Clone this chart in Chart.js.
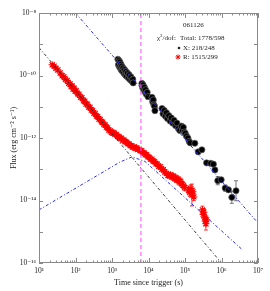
<!DOCTYPE html>
<html>
<head>
<meta charset="utf-8">
<script src="https://cdn.jsdelivr.net/npm/chart.js@4.4.1/dist/chart.umd.min.js"></script>
<style>
  html, body { margin: 0; padding: 0; background: #fff; }
  #wrap { width: 270px; height: 291px; }
</style>
</head>
<body>
<div id="wrap"><canvas id="lc" width="270" height="291"></canvas></div>
<script>
const SERIF = "'Liberation Serif', 'DejaVu Serif', serif";

// X-ray (XRT) light curve: time (s), flux (erg cm-2 s-1), error (dex)
const xrtTime = [1450, 1500, 1550, 1600, 1650, 1700, 1750, 1800, 1850, 1900, 2000, 2100, 2200, 2300, 2400, 2500, 2650, 2800, 2950, 3100, 3300, 3500, 3700, 3800,
  6600, 6900, 7100, 7400, 7700, 8000, 8300, 8700, 9200, 9700,
  12500, 13000, 13500, 14000, 14500, 15000,
  23500, 25000, 27000, 29000, 31000, 33000, 36000, 39000, 42000, 46000, 50000, 55000, 60000, 66000, 72000,
  80000, 85000, 90000, 96000, 102000, 110000, 120000, 130000, 138000,
  186000, 230000, 290000, 390000, 510000, 600000, 660000, 790000, 980000, 1260000, 1550000, 1920000, 2500000];
const xrtFlux = [3.3e-10, 2.2e-10, 3.0e-10, 1.9e-10, 2.7e-10, 1.7e-10, 2.3e-10, 1.5e-10, 2.0e-10, 1.4e-10, 1.75e-10, 1.2e-10, 1.55e-10, 1.05e-10, 1.35e-10, 9.5e-11, 1.2e-10, 8.4e-11, 1.05e-10, 7.4e-11, 9.0e-11, 6.5e-11, 7.6e-11, 5.8e-11,
  5.6e-11, 4.1e-11, 5.0e-11, 3.5e-11, 4.2e-11, 3.0e-11, 3.5e-11, 2.5e-11, 2.9e-11, 2.1e-11,
  2.0e-11, 1.45e-11, 1.65e-11, 1.15e-11, 1.05e-11, 7.5e-12,
  8.8e-12, 6.0e-12, 7.6e-12, 5.0e-12, 6.4e-12, 4.2e-12, 5.2e-12, 3.5e-12, 4.4e-12, 3.0e-12, 3.7e-12, 2.5e-12, 3.0e-12, 2.0e-12, 1.75e-12,
  2.4e-12, 1.8e-12, 2.2e-12, 1.55e-12, 1.4e-12, 1.15e-12, 1.0e-12, 7.8e-13, 7.0e-13,
  6.8e-13, 3.6e-13, 4.2e-13, 1.6e-13, 1.55e-13, 1.45e-13, 9.5e-14, 4.3e-14, 4.6e-14, 2.5e-14, 2.2e-14, 1.26e-14, 2.05e-14];
const xrtErr = [0.03, 0.03, 0.03, 0.03, 0.03, 0.03, 0.03, 0.03, 0.03, 0.03, 0.03, 0.03, 0.03, 0.03, 0.03, 0.03, 0.03, 0.03, 0.03, 0.03, 0.03, 0.03, 0.03, 0.03,
  0.03, 0.03, 0.03, 0.03, 0.03, 0.03, 0.03, 0.03, 0.03, 0.03,
  0.04, 0.04, 0.04, 0.04, 0.04, 0.04,
  0.04, 0.04, 0.04, 0.04, 0.04, 0.04, 0.04, 0.04, 0.04, 0.04, 0.04, 0.04, 0.04, 0.04, 0.04,
  0.05, 0.05, 0.05, 0.05, 0.05, 0.05, 0.05, 0.05, 0.05,
  0.06, 0.06, 0.06, 0.05, 0.05, 0.05, 0.06, 0.13, 0.08, 0.10, 0.08, 0.19, 0.32];

// Optical (R band) light curve
const rTime = [23, 26, 29, 33, 38, 43, 48, 53, 59, 65, 71, 76, 81, 86, 92, 98, 105, 115, 125, 138, 150, 165, 180, 195, 212, 230, 250, 272, 295,
  320, 345, 375, 405, 440, 475, 515, 555, 600, 650, 700, 760, 820, 890, 960, 1040, 1120, 1210, 1310, 1420, 1540, 1670, 1810, 1960, 2120,
  2300, 2490, 2700, 2920, 3160, 3420, 3700, 4000, 4350, 4700, 5100, 5500, 6000, 6500, 7000, 7600, 8200, 8900, 9700, 10500, 11400, 12400,
  13500, 14700, 16000, 17500, 19000, 21000, 23000, 25500, 28000, 31000, 34000, 37000, 40000, 44000, 48000, 52000, 56000, 60000, 65000,
  70000, 76000, 83000, 90000, 98000,
  125000, 135000, 145000, 155000, 165000, 175000,
  300000, 315000, 330000, 345000, 360000, 375000, 390000];
const rFlux = [2.2e-10, 2.0e-10, 1.7e-10, 1.5e-10, 1.2e-10, 9.8e-11, 9.2e-11, 7.4e-11, 7.0e-11, 5.6e-11, 5.4e-11, 4.4e-11, 4.6e-11, 3.7e-11, 3.9e-11, 3.1e-11, 3.2e-11, 2.6e-11, 2.5e-11, 2.0e-11, 1.95e-11, 1.55e-11, 1.5e-11, 1.22e-11, 1.2e-11, 9.8e-12, 9.5e-12, 7.8e-12, 7.6e-12,
  6.2e-12, 6.0e-12, 5.0e-12, 4.9e-12, 4.0e-12, 3.9e-12, 3.3e-12, 3.2e-12, 2.7e-12, 2.6e-12, 2.2e-12, 2.1e-12, 1.8e-12, 1.7e-12, 1.5e-12, 1.45e-12, 1.5e-12, 1.3e-12, 1.3e-12, 1.12e-12, 1.12e-12, 9.8e-13, 9.8e-13, 8.6e-13, 8.6e-13,
  7.6e-13, 7.4e-13, 6.6e-13, 6.5e-13, 5.7e-13, 5.6e-13, 5.1e-13, 5.2e-13, 4.7e-13, 4.8e-13, 4.3e-13, 4.4e-13, 3.9e-13, 3.9e-13, 3.4e-13, 3.3e-13, 2.9e-13, 2.9e-13, 2.5e-13, 2.4e-13, 2.1e-13, 2.1e-13,
  1.8e-13, 1.75e-13, 1.5e-13, 1.45e-13, 1.25e-13, 1.2e-13, 1.0e-13, 9.6e-14, 8.2e-14, 7.4e-14, 6.4e-14, 6.2e-14, 6.6e-14, 5.6e-14, 6.0e-14, 5.0e-14, 5.4e-14, 4.5e-14, 4.8e-14,
  3.9e-14, 4.1e-14, 3.3e-14, 3.0e-14, 2.6e-14,
  2.2e-14, 1.8e-14, 2.4e-14, 1.5e-14, 1.9e-14, 1.3e-14,
  5.0e-15, 3.6e-15, 4.2e-15, 2.8e-15, 2.2e-15, 1.8e-15, 2.4e-15];
const rErr = [0.04, 0.04, 0.04, 0.04, 0.04, 0.04, 0.04, 0.04, 0.04, 0.04, 0.04, 0.04, 0.04, 0.04, 0.04, 0.04, 0.04, 0.04, 0.04, 0.04, 0.04, 0.04, 0.04, 0.04, 0.04, 0.04, 0.04, 0.04, 0.04,
  0.04, 0.04, 0.04, 0.04, 0.04, 0.04, 0.04, 0.04, 0.04, 0.04, 0.04, 0.04, 0.04, 0.04, 0.04, 0.04, 0.04, 0.04, 0.04, 0.04, 0.04, 0.04, 0.04, 0.04, 0.04,
  0.05, 0.05, 0.05, 0.05, 0.05, 0.05, 0.05, 0.05, 0.05, 0.05, 0.05, 0.05, 0.05, 0.05, 0.05, 0.05, 0.05, 0.05, 0.05, 0.05, 0.05, 0.05,
  0.06, 0.06, 0.06, 0.06, 0.06, 0.06, 0.06, 0.06, 0.07, 0.07, 0.07, 0.07, 0.08, 0.08, 0.08, 0.08, 0.08, 0.08, 0.08,
  0.1, 0.1, 0.1, 0.1, 0.1,
  0.12, 0.12, 0.12, 0.35, 0.12, 0.12,
  0.12, 0.12, 0.12, 0.12, 0.15, 0.2, 0.12];

// model lines (time, flux)
const earlyDecayT = [10, 1e6];
const earlyDecayF = [7.8e-10, 1e-16];
const xrtModelT = [100, 1e7];
const xrtModelF = [1e-8, 1.9e-15];
const optModelT = [10, 1600, 3550, 8000, 3.55e6];
const optModelF = [5.0e-15, 1.66e-13, 2.5e-13, 1.78e-13, 2.8e-16];
const breakTime = 6200;

// axes
const xTickVals = [1e1, 1e2, 1e3, 1e4, 1e5, 1e6, 1e7];
const xTickLabels = ['10¹', '10²', '10³', '10⁴', '10⁵', '10⁶', '10⁷'];
const yTickVals = [1e-8, 1e-10, 1e-12, 1e-14, 1e-16];
const yTickLabels = ['10⁻⁸', '10⁻¹⁰', '10⁻¹²', '10⁻¹⁴', '10⁻¹⁶'];
const yDecades = [1e-8, 1e-9, 1e-10, 1e-11, 1e-12, 1e-13, 1e-14, 1e-15, 1e-16];
const minorMult = [2, 3, 4, 5, 6, 7, 8, 9];

const pts = (t, f) => t.map((v, i) => ({ x: v, y: f[i] }));

// error bars drawn with the chart scales
const errorBars = {
  id: 'errorBars',
  beforeDatasetsDraw(chart) {
    const { ctx, scales: { x, y } } = chart;
    const sets = [[xrtTime, xrtFlux, xrtErr, '#555'], [rTime, rFlux, rErr, '#ff0000']];
    ctx.save();
    ctx.lineWidth = 0.8;
    sets.forEach(([t, f, e, col]) => {
      ctx.strokeStyle = col;
      t.forEach((tv, i) => {
        const px = x.getPixelForValue(tv);
        const top = y.getPixelForValue(f[i] * Math.pow(10, e[i]));
        const bot = y.getPixelForValue(f[i] / Math.pow(10, e[i]));
        ctx.beginPath();
        ctx.moveTo(px, top); ctx.lineTo(px, bot);
        ctx.moveTo(px - 2, top); ctx.lineTo(px + 2, top);
        ctx.moveTo(px - 2, bot); ctx.lineTo(px + 2, bot);
        ctx.stroke();
      });
    });
    ctx.restore();
  }
};

// frame with inward ticks + legend text
const frame = {
  id: 'frame',
  afterDraw(chart) {
    const { ctx, chartArea: a, scales: { x, y } } = chart;
    ctx.save();
    ctx.strokeStyle = '#8a8a8a';
    ctx.lineWidth = 1;
    ctx.strokeRect(a.left + 0.5, a.top + 0.5, a.right - a.left - 1, a.bottom - a.top - 1);
    ctx.beginPath();
    xTickVals.forEach((v, k) => {
      const px = Math.round(x.getPixelForValue(v)) + 0.5;
      ctx.moveTo(px, a.bottom); ctx.lineTo(px, a.bottom - 5);
      ctx.moveTo(px, a.top); ctx.lineTo(px, a.top + 5);
      if (k < xTickVals.length - 1) {
        minorMult.forEach(m => {
          const mx = Math.round(x.getPixelForValue(v * m)) + 0.5;
          ctx.moveTo(mx, a.bottom); ctx.lineTo(mx, a.bottom - 2.5);
          ctx.moveTo(mx, a.top); ctx.lineTo(mx, a.top + 2.5);
        });
      }
    });
    yDecades.forEach(v => {
      const py = Math.round(y.getPixelForValue(v)) + 0.5;
      ctx.moveTo(a.left, py); ctx.lineTo(a.left + 4, py);
      ctx.moveTo(a.right, py); ctx.lineTo(a.right - 4, py);
    });
    ctx.stroke();

    // legend block
    ctx.fillStyle = '#222';
    ctx.font = '7px ' + SERIF;
    ctx.textBaseline = 'middle';
    ctx.fillText('061126', 183, 25);
    ctx.fillText('χ', 157, 38);
    let cx = 157 + ctx.measureText('χ').width;
    ctx.font = '5px ' + SERIF;
    ctx.fillText('2', cx, 35.5);
    cx += ctx.measureText('2').width;
    ctx.font = '7px ' + SERIF;
    ctx.fillText('/dof:', cx, 38);
    ctx.fillText('Total: 1778/598', 180, 38);
    ctx.fillText('X: 218/248', 183, 48);
    ctx.fillText('R: 1515/299', 183, 57);
    ctx.beginPath();
    ctx.arc(179, 48, 1.3, 0, Math.PI * 2);
    ctx.fill();
    ctx.strokeStyle = '#ff0000';
    ctx.lineWidth = 1;
    ctx.beginPath();
    for (let k = 0; k < 4; k++) {
      const ang = k * Math.PI / 4;
      ctx.moveTo(178 - 2.5 * Math.cos(ang), 57 - 2.5 * Math.sin(ang));
      ctx.lineTo(178 + 2.5 * Math.cos(ang), 57 + 2.5 * Math.sin(ang));
    }
    ctx.stroke();
    ctx.restore();
  }
};

new Chart(document.getElementById('lc'), {
  type: 'scatter',
  data: {
    datasets: [
      { data: [{ x: breakTime, y: 1e-16 }, { x: breakTime, y: 1e-8 }], showLine: true, pointRadius: 0,
        borderColor: '#ff44ff', borderWidth: 1, borderDash: [4, 3] },
      { data: pts(earlyDecayT, earlyDecayF), showLine: true, pointRadius: 0,
        borderColor: '#222', borderWidth: 0.9, borderDash: [3, 2, 1, 2] },
      { data: pts(xrtModelT, xrtModelF), showLine: true, pointRadius: 0,
        borderColor: '#2a2ae6', borderWidth: 1, borderDash: [3, 2, 1, 2] },
      { data: pts(optModelT, optModelF), showLine: true, pointRadius: 0, tension: 0,
        borderColor: '#2a2ae6', borderWidth: 1, borderDash: [3, 2, 1, 2] },
      { data: pts(xrtTime, xrtFlux), pointStyle: 'circle', pointRadius: 3.1,
        backgroundColor: '#000', borderColor: '#666', borderWidth: 0.7 },
      { data: pts(rTime, rFlux), pointStyle: 'star', pointRadius: 3.6,
        borderColor: '#ff0000', backgroundColor: '#ff0000', borderWidth: 1.1 }
    ]
  },
  options: {
    responsive: false,
    devicePixelRatio: 1,
    animation: false,
    layout: { padding: { top: 13, right: 12, left: 0, bottom: 0 } },
    plugins: { legend: { display: false }, tooltip: { enabled: false } },
    scales: {
      x: {
        type: 'logarithmic', min: 10, max: 1e7,
        grid: { display: false, drawTicks: false }, border: { display: false },
        afterBuildTicks: s => { s.ticks = xTickVals.map(v => ({ value: v })); },
        afterFit: s => { s.height = 28; },
        ticks: { font: { family: SERIF, size: 7.5 }, color: '#222', padding: 4, maxRotation: 0, autoSkip: false,
          callback: (v, i) => xTickLabels[i] },
        title: { display: true, text: 'Time since trigger (s)', font: { family: SERIF, size: 8 }, color: '#222',
          padding: { top: 0, bottom: 3 } }
      },
      y: {
        type: 'logarithmic', min: 1e-16, max: 1e-8,
        grid: { display: false, drawTicks: false }, border: { display: false },
        afterBuildTicks: s => { s.ticks = yTickVals.map(v => ({ value: v })); },
        afterFit: s => { s.width = 39; },
        ticks: { font: { family: SERIF, size: 7.5 }, color: '#222', padding: 3, autoSkip: false,
          callback: (v, i) => yTickLabels[i] },
        title: { display: true, text: 'Flux (erg cm⁻² s⁻¹)', font: { family: SERIF, size: 8 }, color: '#222',
          padding: { top: 9, bottom: 0 } }
      }
    }
  },
  plugins: [errorBars, frame]
});
</script>
</body>
</html>
